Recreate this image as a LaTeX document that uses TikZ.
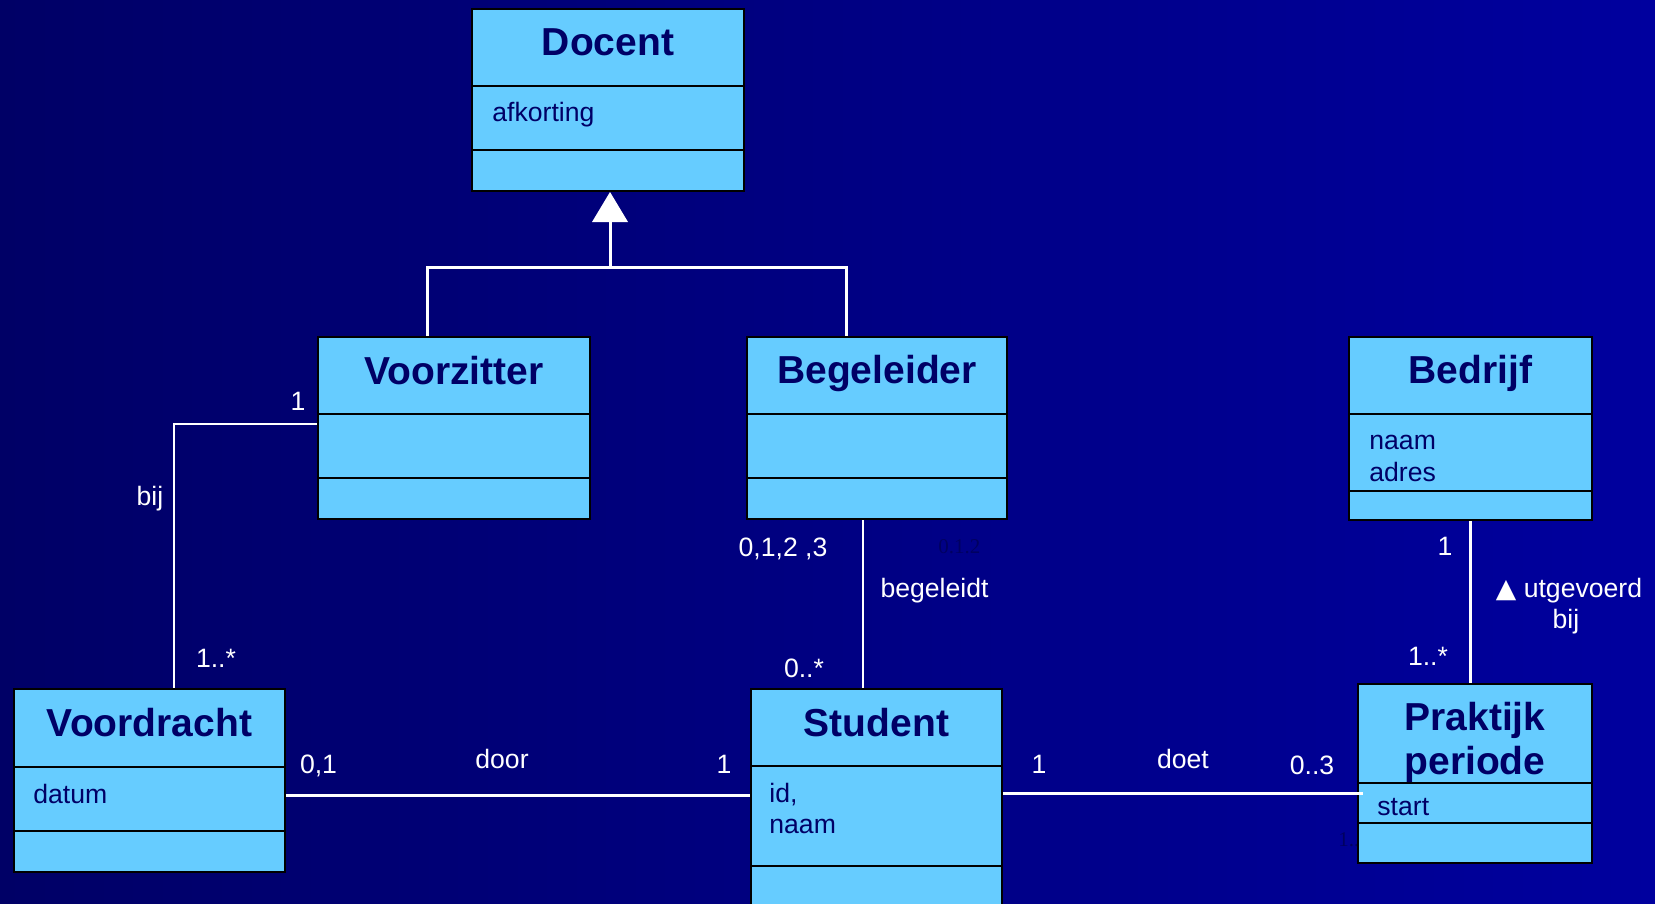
\documentclass[tikz,border=0pt]{standalone}
\usepackage{fontspec}
\setmainfont{Liberation Sans}
\newfontfamily\serifx{Liberation Serif}
\newfontfamily\symx{DejaVu Sans}
\usetikzlibrary{calc}
\definecolor{bgl}{RGB}{0,0,102}
\definecolor{bgr}{RGB}{0,0,158}
\definecolor{boxfill}{RGB}{102,204,255}
\definecolor{ink}{RGB}{0,0,102}
\definecolor{faint}{RGB}{0,0,96}
\begin{document}
\begin{tikzpicture}[x=0.5pt,y=-0.5pt,
  umlbox/.style={draw=black, line width=1pt, fill=boxfill, inner sep=0pt},
  title/.style={font=\fontsize{19.5}{22}\selectfont\bfseries, text=ink, anchor=base, inner sep=0pt},
  attr/.style={font=\fontsize{13.3}{15}\selectfont, text=ink, anchor=base west, inner sep=0pt},
  lbl/.style={font=\fontsize{13.3}{15}\selectfont, text=white, anchor=base, inner sep=0pt},
  ghost/.style={font=\serifx\fontsize{10.5}{12}\selectfont, text=faint, anchor=base west, inner sep=0pt},
  conn/.style={draw=white, line width=1.5pt},
  thinconn/.style={draw=white, line width=1pt},
  divider/.style={draw=black, line width=1pt}]

\useasboundingbox (0,0) rectangle (1655,904);
\clip (0,0) rectangle (1655,904);
\shade[left color=bgl, right color=bgr] (0,0) rectangle (1655,904);

% faint hidden labels
\node[ghost] (g1) at (938,553) {0.1.2};
\node[ghost] (g2) at (1338,846) {1..*};

% boxes
\node[umlbox, minimum width=136pt, minimum height=91pt] (doc) at (608,100) {};
\node[umlbox, minimum width=136pt, minimum height=91pt] (vz) at (454,428) {};
\node[umlbox, minimum width=130pt, minimum height=91pt] (bg) at (877,428) {};
\node[umlbox, minimum width=121.5pt, minimum height=91.5pt] (bd) at (1470.5,428.5) {};
\node[umlbox, minimum width=135.5pt, minimum height=91.5pt] (vd) at (149.5,780.5) {};
\node[umlbox, minimum width=125.5pt, minimum height=120.5pt] (st) at (876.5,809.5) {};
\node[umlbox, minimum width=117pt, minimum height=89.5pt] (pp) at (1475,773.5) {};

% dividers
\draw[divider] (doc.west |- 0,86) -- (doc.east |- 0,86);
\draw[divider] (doc.west |- 0,150) -- (doc.east |- 0,150);
\draw[divider] (vz.west |- 0,414) -- (vz.east |- 0,414);
\draw[divider] (vz.west |- 0,478) -- (vz.east |- 0,478);
\draw[divider] (bg.west |- 0,414) -- (bg.east |- 0,414);
\draw[divider] (bg.west |- 0,478) -- (bg.east |- 0,478);
\draw[divider] (bd.west |- 0,414) -- (bd.east |- 0,414);
\draw[divider] (bd.west |- 0,491) -- (bd.east |- 0,491);
\draw[divider] (vd.west |- 0,767) -- (vd.east |- 0,767);
\draw[divider] (vd.west |- 0,831) -- (vd.east |- 0,831);
\draw[divider] (st.west |- 0,766) -- (st.east |- 0,766);
\draw[divider] (st.west |- 0,866) -- (st.east |- 0,866);
\draw[divider] (pp.west |- 0,783) -- (pp.east |- 0,783);
\draw[divider] (pp.west |- 0,823) -- (pp.east |- 0,823);

% titles
\node[title] (tdoc) at (608,56) {Docent};
\node[title] (tvz) at (454,384) {Voorzitter};
\node[title] (tbg) at (877,383) {Begeleider};
\node[title] (tbd) at (1470.5,383) {Bedrijf};
\node[title] (tvd) at (149.5,736) {Voordracht};
\node[title] (tst) at (876.5,736) {Student};
\node[title] (tpp1) at (1475,730) {Praktijk};
\node[title] (tpp2) at (1475,774) {periode};

% attributes
\node[attr] (adoc) at (492,122) {afkorting};
\node[attr] (abd1) at (1369,449) {naam};
\node[attr] (abd2) at (1369,481) {adres};
\node[attr] (avd) at (33,803) {datum};
\node[attr] (ast1) at (769,802) {id,};
\node[attr] (ast2) at (769,833) {naam};
\node[attr] (app) at (1377,815) {start};

% generalization
\coordinate (jn) at (610,267);
\draw[conn] ([xshift=-13.5pt]vz.north) |- (jn) -| ([xshift=-15.5pt]bg.north);
\draw[conn] (jn) -- ([xshift=1pt,yshift=-15pt]doc.south);
\fill[white] ([xshift=1pt]doc.south) -- ++(-18,30) -- ++(36,0) -- cycle;

% associations
\draw[thinconn] ([yshift=2pt]vz.west) -| ([xshift=12.25pt]vd.north);
\draw[thinconn] ([xshift=-7pt]bg.south) -- ([xshift=-7pt]bg.south |- st.north);
\coordinate (vs) at ([yshift=-7.25pt]vd.east);
\draw[conn] (vs) -- (vs -| st.west);
\coordinate (sp) at ([yshift=8.25pt]st.east);
\draw[conn] (sp) -- ($(sp -| pp.west)+(6,0)$);
\draw[conn] (bd.south) -- (bd.south |- pp.north);

% labels
\node[lbl] (l1) at (298,410) {1};
\node[lbl] (l2) at (150,505) {bij};
\node[lbl] (l3) at (216,667) {1..*};
\node[lbl] (l4) at (783,556) {0,1,2 ,3};
\node[lbl] (l5) at (934.5,597) {begeleidt};
\node[lbl] (l6) at (804,677) {0..*};
\node[lbl] (l7) at (318.5,773) {0,1};
\node[lbl] (l8) at (502,768) {door};
\node[lbl] (l9) at (724,773) {1};
\node[lbl] (l10) at (1039,773) {1};
\node[lbl] (l11) at (1183,768) {doet};
\node[lbl] (l12) at (1312,774) {0..3};
\node[lbl] (l13) at (1445,555) {1};
\node[lbl] (l14) at (1569,597) {{\symx ▲} utgevoerd};
\node[lbl] (l15) at (1566,628) {bij};
\node[lbl] (l16) at (1428,665) {1..*};
\end{tikzpicture}
\end{document}
